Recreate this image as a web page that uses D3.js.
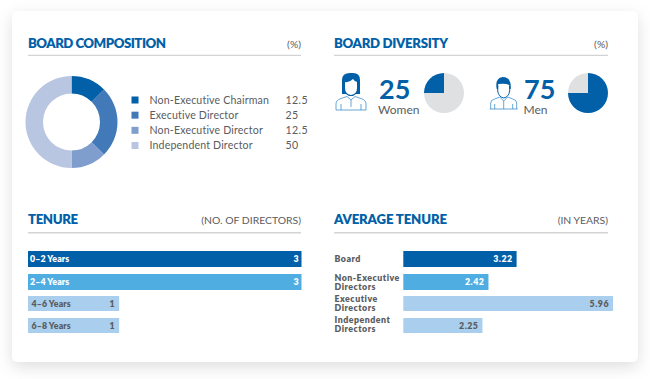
<!DOCTYPE html>
<html><head><meta charset="utf-8">
<script src="https://cdn.jsdelivr.net/npm/d3@7"></script>
<style>
html,body{margin:0;padding:0;background:#fff;width:650px;height:379px;overflow:hidden}
text{font-family:Lato,"Open Sans",sans-serif}
</style></head><body>
<svg id="c" width="650" height="379"></svg>
<script>
const sectionTitles=["BOARD COMPOSITION","BOARD DIVERSITY","TENURE","AVERAGE TENURE"];
const sectionUnits=["(%)","(%)","(NO. OF DIRECTORS)","(IN YEARS)"];
const compCategories=["Non-Executive Chairman","Executive Director","Non-Executive Director","Independent Director"];
const compValues=[12.5,25,12.5,50];
const compColors=["#0160a8","#4279b9","#7f9ecd","#b8c6e2"];
const diversityLabels=["Women","Men"];
const diversityValues=[25,75];
const tenureCategories=["0–2 Years","2–4 Years","4–6 Years","6–8 Years"];
const tenureValues=[3,3,1,1];
const avgCategories=[["Board"],["Non-Executive","Directors"],["Executive","Directors"],["Independent","Directors"]];
const avgValues=[3.22,2.42,5.96,2.25];
const barColors=["#0160a8","#50ade2","#aacfee","#aacfee"];
const barText=["#fff","#fff","#5a5c60","#5a5c60"];

const BLUE="#0160a8",GREY="#5a5c60";
const svg=d3.select("#c");
const defs=svg.append("defs");
const f=defs.append("filter").attr("id","sh").attr("x","-10%").attr("y","-10%").attr("width","120%").attr("height","125%");
f.append("feDropShadow").attr("dx",0).attr("dy",5).attr("stdDeviation",8).attr("flood-color","#000").attr("flood-opacity",.13);
svg.append("rect").attr("x",12).attr("y",11).attr("width",626).attr("height",351).attr("rx",6).attr("fill","#fff").attr("filter","url(#sh)");

const heads=[[28,301,48,55.4,138],[334,608,48,55.4,114],[28,301,223.6,232.7,50],[334,608,223.6,232.7,113]];
heads.forEach((h,i)=>{
  svg.append("text").attr("x",h[0]).attr("y",h[2]).attr("fill",BLUE).attr("font-size",13.2).attr("font-weight",800).attr("textLength",h[4]).attr("lengthAdjust","spacing").text(sectionTitles[i]);
  svg.append("text").attr("x",h[1]).attr("y",h[2]).attr("text-anchor","end").attr("fill",GREY).attr("font-size",10.4).text(sectionUnits[i]);
  svg.append("line").attr("x1",h[0]).attr("x2",h[1]).attr("y1",h[3]).attr("y2",h[3]).attr("stroke","#d3d4d6").attr("stroke-width",1.4);
});

// donut
const pie=d3.pie().sort(null);
const arc=d3.arc().innerRadius(28.5).outerRadius(46);
const don=svg.append("g").attr("transform","translate(71.5,122)");
don.selectAll("path").data(pie(compValues)).join("path").attr("d",arc).attr("fill",(d,i)=>compColors[i]);
// legend
const ly=d3.scalePoint().domain(compCategories).range([100,145.5]);
compCategories.forEach((c,i)=>{
  const y=ly(c);
  svg.append("rect").attr("x",131.5).attr("y",y-3.5).attr("width",7).attr("height",7).attr("fill",compColors[i]);
  svg.append("text").attr("x",149.5).attr("y",y+3.7).attr("fill",GREY).attr("font-size",10.6).attr("letter-spacing",.16).text(c);
  svg.append("text").attr("x",285.5).attr("y",y+3.7).attr("fill",GREY).attr("font-size",10.6).attr("letter-spacing",.4).text(compValues[i]);
});

// diversity
const smallPie=d3.arc().innerRadius(0).outerRadius(20);
const divPos=[{pie:444,num:379,lab:378,start:-Math.PI/2},{pie:588,num:524,lab:523.5,start:0}];
diversityValues.forEach((v,i)=>{
  const p=divPos[i];
  const g=svg.append("g").attr("transform",`translate(${p.pie},93)`);
  const slices=d3.pie().sort(null).startAngle(p.start).endAngle(p.start+2*Math.PI)([v,100-v]);
  g.selectAll("path").data(slices).join("path").attr("d",smallPie).attr("fill",(d,j)=>j==0?BLUE:"#dfe0e2");
  svg.append("text").attr("x",p.num).attr("y",98.5).attr("fill",BLUE).attr("font-size",27).attr("font-weight",700).text(v);
  svg.append("text").attr("x",p.lab).attr("y",114).attr("fill",GREY).attr("font-size",12).text(diversityLabels[i]);
});
// icons
const lb="#3f8fcb";
function woman(g){
  g.append("path").attr("fill",BLUE).attr("d","M-9,-1 V-15 Q-9,-22 -1,-22 H2 Q9,-22 9,-15 V-1 H5 L2,1 H-2 L-5,-1 Z");
  g.append("path").attr("fill","#fff").attr("d","M-6,-13 Q-2,-12 2,-16 Q4,-13 6,-13 V-7 Q6,-1 0,0 Q-6,-1 -6,-7 Z");
  g.append("path").attr("fill","none").attr("stroke",lb).attr("stroke-width",.8).attr("d","M-15,15 V9 Q-15,5 -10,3.5 L-4,1.5 L0,5 L4,1.5 L10,3.5 Q15,5 15,9 V15 Z M-10,9 V15 M10,9 V15 M0,5 V12");
}
function man(g){
  g.append("path").attr("fill",BLUE).attr("d","M-7,-6 Q-9,-17 -1,-18 Q8,-18 7,-6 L5.5,-6 V-10 Q2,-12 -5.5,-11 V-6 Z");
  g.append("path").attr("fill","none").attr("stroke",BLUE).attr("stroke-width",1).attr("d","M-6,-9 V-4 Q-5,2 0,3 Q5,2 6,-4 V-9");
  g.append("path").attr("fill","none").attr("stroke",lb).attr("stroke-width",.8).attr("d","M-13,14 V8 Q-13,5 -9,4 L-4,2 L0,6 L4,2 L9,4 Q13,5 13,8 V14 M-14,14 H14 M-9,9 V14 M9,9 V14 M0,6 V14");
}
woman(svg.append("g").attr("transform","translate(351,95)"));
man(svg.append("g").attr("transform","translate(503.7,95)"));

// bars
const rowTops=[251,274,296,318],rowH=[16,16,15,15];
const tx=d3.scaleLinear().domain([0,3]).range([28,301.5]);
tenureValues.forEach((v,i)=>{
  svg.append("rect").attr("x",tx(0)).attr("y",rowTops[i]).attr("width",tx(v)-tx(0)).attr("height",rowH[i]).attr("fill",barColors[i]);
  const ty=rowTops[i]+rowH[i]/2+3.2;
  svg.append("text").attr("x",i<2?30:31.5).attr("y",ty).attr("fill",barText[i]).attr("font-size",8.8).attr("font-weight",800).attr("letter-spacing",.1).text(tenureCategories[i]);
  svg.append("text").attr("x",tx(v)-(i<2?3:4.5)).attr("y",ty).attr("text-anchor","end").attr("fill",barText[i]).attr("font-size",8.8).attr("font-weight",800).text(v);
});
const ax=d3.scaleLinear().domain([0,5.96]).range([403.3,613]);
const labelBase=[262,280.7,301.7,323];
avgValues.forEach((v,i)=>{
  svg.append("rect").attr("x",ax(0)).attr("y",rowTops[i]).attr("width",ax(v)-ax(0)).attr("height",rowH[i]).attr("fill",barColors[i]);
  svg.append("text").attr("x",ax(v)-4).attr("y",rowTops[i]+rowH[i]/2+3.2).attr("text-anchor","end").attr("fill",barText[i]).attr("font-size",8.8).attr("font-weight",800).attr("letter-spacing",.5).text(v.toFixed(2));
  const lab=svg.append("text").attr("y",labelBase[i]).attr("fill",GREY).attr("font-size",8.8).attr("font-weight",800).attr("letter-spacing",.5);
  avgCategories[i].forEach((t,j)=>lab.append("tspan").attr("x",334.5).attr("y",labelBase[i]+j*9.4).text(t));
});
</script>
</body></html>
